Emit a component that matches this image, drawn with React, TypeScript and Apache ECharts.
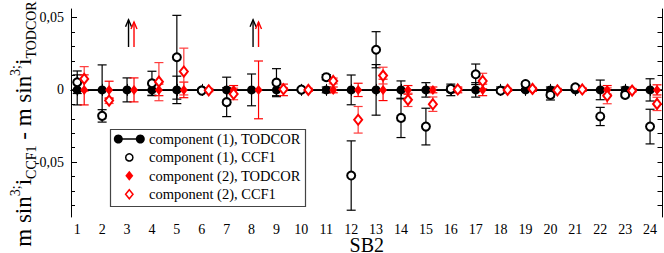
import React, { useEffect, useRef } from 'react';
import * as echarts from 'echarts';

// ---------- data ----------
const systems = [1, 2, 3, 4, 5, 6, 7, 8, 9, 10, 11, 12, 13, 14, 15, 16, 17, 18, 19, 20, 21, 22, 23, 24];

// component (1), TODCOR: value (difference is zero by definition) and error
const c1TodcorVal = [0, 0, 0, 0, 0, 0, 0, 0, 0, 0, 0, 0, 0, 0, 0, 0, 0, 0, 0, 0, 0, 0, 0, 0];
const c1TodcorErr = [0.0104, 0.0173, 0.0083, 0.004, 0.0095, 0.001, 0.0088, 0.011, 0.004, 0.001, 0.002, 0.0103,
  0.0175, 0.0062, 0.005, 0.004, 0.005, 0.002, 0.001, 0.002, 0.001, 0.0068, 0.002, 0.0077];

// component (1), CCF1 (null = off scale, shown by arrow)
const c1CcfVal = [0.0053, -0.018, null, 0.0046, 0.0226, -0.0005, -0.0085, null, 0.005, 0.0002, 0.0088, -0.0593,
  0.0278, -0.0194, -0.0254, 0.0007, 0.0108, -0.0006, 0.0041, -0.0035, 0.0018, -0.0184, -0.0035, -0.0254];
const c1CcfErr = [0.0078, 0.0043, null, 0.0083, 0.029, 0.001, 0.01, null, 0.0097, 0.001, 0.0018, 0.024,
  0.0125, 0.0136, 0.0127, 0.002, 0.0071, 0.001, 0.001, 0.0035, 0.001, 0.0063, 0.001, 0.012];

// component (2), TODCOR
const c2TodcorVal = [0, 0, 0, 0, 0, 0, 0, 0, 0, 0, 0, 0, 0, 0, 0, 0, 0, 0, 0, 0, 0, 0, 0, 0];
const c2TodcorErr = [0.0104, 0.006, 0.0083, 0.004, 0.0054, 0.001, 0.003, 0.02, 0.004, 0.001, 0.002, 0.0046,
  0.0074, 0.003, 0.002, 0.002, 0.004, 0.001, 0.001, 0.001, 0.001, 0.003, 0.001, 0.0035];

// component (2), CCF1
const c2CcfVal = [0.0076, -0.0074, null, 0.0057, 0.0127, -0.0003, -0.0028, null, 0.0005, 0, 0.0062, -0.0207,
  0.0099, -0.0069, -0.0099, 0.0003, 0.0062, 0, 0.0007, -0.0003, 0.0003, -0.0041, -0.0005, -0.0097];
const c2CcfErr = [0.0085, 0.002, null, 0.0132, 0.0162, 0.001, 0.004, null, 0.001, 0.001, 0.002, 0.0092,
  0.0058, 0.0046, 0.005, 0.001, 0.0053, 0.001, 0.001, 0.001, 0.001, 0.0055, 0.001, 0.0046];

// off-scale CCF1 values (arrows)
const arrowSystems = [3, 8];
const arrowFrom = 0.0297;
const arrowToC1 = 0.0486;
const arrowToC2 = 0.047;

const comp2Shift = 0.28;
const c1ArrowShift = 0.06;

// axis ticks
const yMajorTicks = [-0.05, 0, 0.05];
const yMinorTicks = [-0.08, -0.07, -0.06, -0.04, -0.03, -0.02, -0.01, 0.01, 0.02, 0.03, 0.04];
const yAllTicks = [-0.08, -0.07, -0.06, -0.05, -0.04, -0.03, -0.02, -0.01, 0, 0.01, 0.02, 0.03, 0.04, 0.05];

const legendLabels = ['component (1), TODCOR', 'component (1), CCF1', 'component (2), TODCOR', 'component (2), CCF1'];

const SERIF = 'Liberation Serif';
const RED = '#ff0000';

function errData(vals: (number | null)[], errs: (number | null)[], shift: number) {
  const out: number[][] = [];
  systems.forEach((s, i) => {
    const v = vals[i];
    const e = errs[i];
    if (v === null || e === null) return;
    out.push([s + shift, v - e, v + e]);
  });
  return out;
}

function pointData(vals: (number | null)[], shift: number) {
  const out: number[][] = [];
  systems.forEach((s, i) => {
    const v = vals[i];
    if (v === null) return;
    out.push([s + shift, v]);
  });
  return out;
}

function errSeries(name: string, data: number[][], color: string, z: number) {
  return {
    type: 'custom',
    name,
    z,
    silent: true,
    data,
    encode: { x: 0, y: [1, 2] },
    renderItem: (params: any, api: any) => {
      const x = api.value(0);
      const lo = api.coord([x, api.value(1)]);
      const hi = api.coord([x, api.value(2)]);
      const hw = 4.5;
      const st = { stroke: color, lineWidth: 1.2, fill: 'none' };
      return {
        type: 'group',
        children: [
          { type: 'line', shape: { x1: lo[0], y1: lo[1], x2: hi[0], y2: hi[1] }, style: st },
          { type: 'line', shape: { x1: lo[0] - hw, y1: lo[1], x2: lo[0] + hw, y2: lo[1] }, style: st },
          { type: 'line', shape: { x1: hi[0] - hw, y1: hi[1], x2: hi[0] + hw, y2: hi[1] }, style: st },
        ],
      };
    },
  };
}

function arrowSeries(data: number[][], color: string) {
  return {
    type: 'custom',
    silent: true,
    z: 6,
    data,
    encode: { x: 0, y: [1, 2] },
    renderItem: (params: any, api: any) => {
      const x = api.value(0);
      const a = api.coord([x, api.value(1)]);
      const b = api.coord([x, api.value(2)]);
      const st = { stroke: color, lineWidth: 1.4, fill: 'none' };
      return {
        type: 'group',
        children: [
          { type: 'line', shape: { x1: a[0], y1: a[1], x2: b[0], y2: b[1] }, style: st },
          { type: 'polyline', shape: { points: [[b[0] - 3, b[1] + 7], [b[0], b[1]], [b[0] + 3, b[1] + 7]] }, style: st },
        ],
      };
    },
  };
}

export default function App() {
  const ref = useRef<HTMLDivElement>(null);
  useEffect(() => {
    const chart = echarts.init(ref.current!, null, { renderer: 'svg' });

    const xCommon = {
      type: 'value',
      min: 0.75,
      max: 24.5,
      splitLine: { show: false },
      axisLine: { show: true, lineStyle: { color: '#000', width: 1 } },
    };
    const yCommon = {
      type: 'value',
      min: -0.088,
      max: 0.056,
      splitLine: { show: false },
    };

    const legendY = [139, 157.4, 175.8, 194.2];
    const lx = 129.3;

    chart.setOption({
      animation: false,
      backgroundColor: '#fff',
      grid: { left: 71, right: 1.5, top: 9, bottom: 36, containLabel: false, outerBoundsMode: 'none' },
      xAxis: [
        {
          ...xCommon,
          position: 'bottom',
          axisTick: { show: true, inside: true, length: 6, customValues: systems, lineStyle: { color: '#000' } },
          axisLabel: { show: true, customValues: systems, fontFamily: SERIF, fontSize: 14, lineHeight: 14, color: '#000', margin: 5 },
          name: 'SB2',
          nameLocation: 'middle',
          nameGap: 19,
          nameMoveOverlap: false,
          nameTextStyle: { fontFamily: SERIF, fontSize: 20, lineHeight: 17, color: '#000', verticalAlign: 'top' },
        },
        {
          ...xCommon,
          position: 'top',
          axisTick: { show: true, inside: true, length: 6, customValues: systems, lineStyle: { color: '#000' } },
          axisLabel: { show: false },
        },
      ],
      yAxis: [
        {
          ...yCommon,
          position: 'left',
          axisLine: { show: true, lineStyle: { color: '#000', width: 1 } },
          axisTick: { show: true, inside: true, length: 6, customValues: yMajorTicks, lineStyle: { color: '#000' } },
          axisLabel: {
            show: true,
            customValues: yMajorTicks,
            fontFamily: SERIF,
            fontSize: 14,
            color: '#000',
            margin: 7,
            formatter: (v: number) => (v === 0 ? '0' : String(v).replace('.', ',')),
          },
        },
        {
          ...yCommon,
          position: 'left',
          axisLine: { show: false },
          axisTick: { show: true, inside: true, length: 4, customValues: yMinorTicks, lineStyle: { color: '#000' } },
          axisLabel: { show: false },
        },
        {
          ...yCommon,
          position: 'right',
          axisLine: { show: true, lineStyle: { color: '#000', width: 1 } },
          axisTick: { show: true, inside: true, length: 5, customValues: yAllTicks, lineStyle: { color: '#000' } },
          axisLabel: { show: false },
        },
      ],
      series: [
        errSeries('c1 TODCOR err', errData(c1TodcorVal, c1TodcorErr, 0), '#000', 2),
        errSeries('c1 CCF1 err', errData(c1CcfVal, c1CcfErr, 0), '#000', 2),
        errSeries('c2 TODCOR err', errData(c2TodcorVal, c2TodcorErr, comp2Shift), RED, 2),
        errSeries('c2 CCF1 err', errData(c2CcfVal, c2CcfErr, comp2Shift), '#ff3b3b', 2),
        {
          type: 'line',
          name: legendLabels[0],
          z: 4,
          data: pointData(c1TodcorVal, 0),
          symbol: 'circle',
          symbolSize: 9,
          itemStyle: { color: '#000', opacity: 1 },
          lineStyle: { color: '#000', width: 1.5 },
          markLine: {
            silent: true,
            symbol: 'none',
            label: { show: false },
            lineStyle: { color: '#000', width: 1.5, type: 'solid' },
            data: [{ yAxis: 0 }],
          },
        },
        {
          type: 'scatter',
          name: legendLabels[1],
          z: 5,
          data: pointData(c1CcfVal, 0),
          symbol: 'emptyCircle',
          symbolSize: 8,
          itemStyle: { color: '#000', borderWidth: 1.5, opacity: 1 },
        },
        {
          type: 'scatter',
          name: legendLabels[2],
          z: 5,
          data: pointData(c2TodcorVal, comp2Shift),
          symbol: 'diamond',
          symbolSize: [8, 10],
          itemStyle: { color: RED, opacity: 1 },
        },
        {
          type: 'scatter',
          name: legendLabels[3],
          z: 5,
          data: pointData(c2CcfVal, comp2Shift),
          symbol: 'emptyDiamond',
          symbolSize: [8, 10],
          itemStyle: { color: RED, borderWidth: 1.5, opacity: 1 },
        },
        arrowSeries(arrowSystems.map((s) => [s + c1ArrowShift, arrowFrom, arrowToC1]), '#000'),
        arrowSeries(arrowSystems.map((s) => [s + comp2Shift, arrowFrom, arrowToC2]), RED),
      ],
      graphic: [
        {
          type: 'text',
          x: 23,
          y: 124,
          rotation: Math.PI / 2,
          style: {
            text: '{m|m sin}{sup|3;}{m|i}{sub|CCF1}{m| - m sin}{sup|3;}{m|i}{sub|TODCOR}',
            align: 'center',
            verticalAlign: 'middle',
            fill: '#000',
            rich: {
              m: { fontFamily: SERIF, fontSize: 23, lineHeight: 30, fill: '#000' },
              sup: { fontFamily: SERIF, fontSize: 14, lineHeight: 14, verticalAlign: 'top', fill: '#000' },
              sub: { fontFamily: SERIF, fontSize: 14, lineHeight: 14, verticalAlign: 'bottom', fill: '#000' },
            },
          },
        },
        {
          type: 'group',
          z: 100,
          children: [
            { type: 'rect', shape: { x: 110.5, y: 129.5, width: 195, height: 77 }, style: { fill: '#fff', stroke: '#444', lineWidth: 1.2 } },
            { type: 'line', shape: { x1: lx - 11, y1: legendY[0], x2: lx + 11, y2: legendY[0] }, style: { stroke: '#000', lineWidth: 1.5 } },
            { type: 'circle', shape: { cx: lx - 11, cy: legendY[0], r: 4.5 }, style: { fill: '#000' } },
            { type: 'circle', shape: { cx: lx + 11, cy: legendY[0], r: 4.5 }, style: { fill: '#000' } },
            { type: 'circle', shape: { cx: lx, cy: legendY[1], r: 3.6 }, style: { fill: '#fff', stroke: '#000', lineWidth: 1.5 } },
            { type: 'polygon', shape: { points: [[lx, legendY[2] - 5], [lx + 4, legendY[2]], [lx, legendY[2] + 5], [lx - 4, legendY[2]]] }, style: { fill: RED } },
            { type: 'polygon', shape: { points: [[lx, legendY[3] - 4.5], [lx + 3.7, legendY[3]], [lx, legendY[3] + 4.5], [lx - 3.7, legendY[3]]] }, style: { fill: '#fff', stroke: RED, lineWidth: 1.5 } },
            ...legendLabels.map((t, i) => ({
              type: 'text',
              x: 149,
              y: legendY[i],
              style: { text: t, fontFamily: SERIF, fontSize: 14.5, fill: '#000', align: 'left', verticalAlign: 'middle' },
            })),
          ],
        },
      ],
    });
    return () => chart.dispose();
  }, []);
  return <div ref={ref} style={{ position: 'fixed', left: 0, top: 0, width: 664, height: 253 }} />;
}
